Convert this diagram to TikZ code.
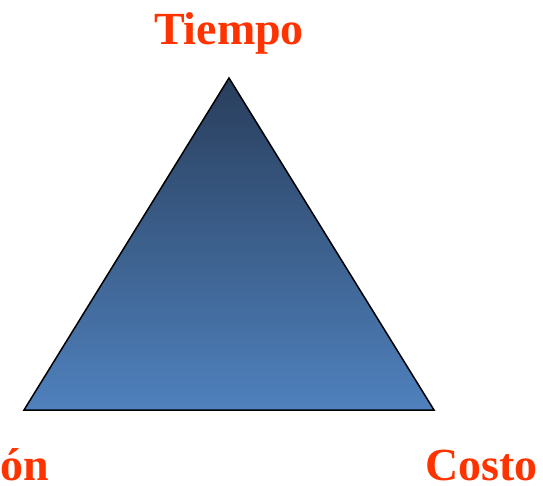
\documentclass[tikz,border=0pt]{standalone}
\usepackage{fontspec}
\setmainfont{Liberation Serif}
\definecolor{lbl}{HTML}{FF3300}
\definecolor{topc}{HTML}{293E5C}
\definecolor{midc}{HTML}{456FA5}
\definecolor{botc}{HTML}{4F81BD}
\begin{document}
\begin{tikzpicture}[x=1pt,y=1pt,
  lab/.style={text=lbl,font=\fontsize{46}{50}\selectfont\bfseries,inner sep=0pt}]
\useasboundingbox (0,0) rectangle (543,485);
\coordinate (apex) at (229,407);
\coordinate (bl) at (24,75);
\coordinate (br) at (434,75);
\shade[top color=topc,middle color=midc,bottom color=botc] (apex) -- (bl) -- (br) -- cycle;
\draw[line width=1.5pt,line join=miter] (apex) -- (bl) -- (br) -- cycle;
\node[lab,anchor=base] (tiempo) at (229,440) {Tiempo};
\node[lab,anchor=base west,text depth=0pt] (on) at (0,5) {ón};
\node[lab,anchor=base east,text depth=0pt] (costo) at (538,5) {Costo};
\end{tikzpicture}
\end{document}
